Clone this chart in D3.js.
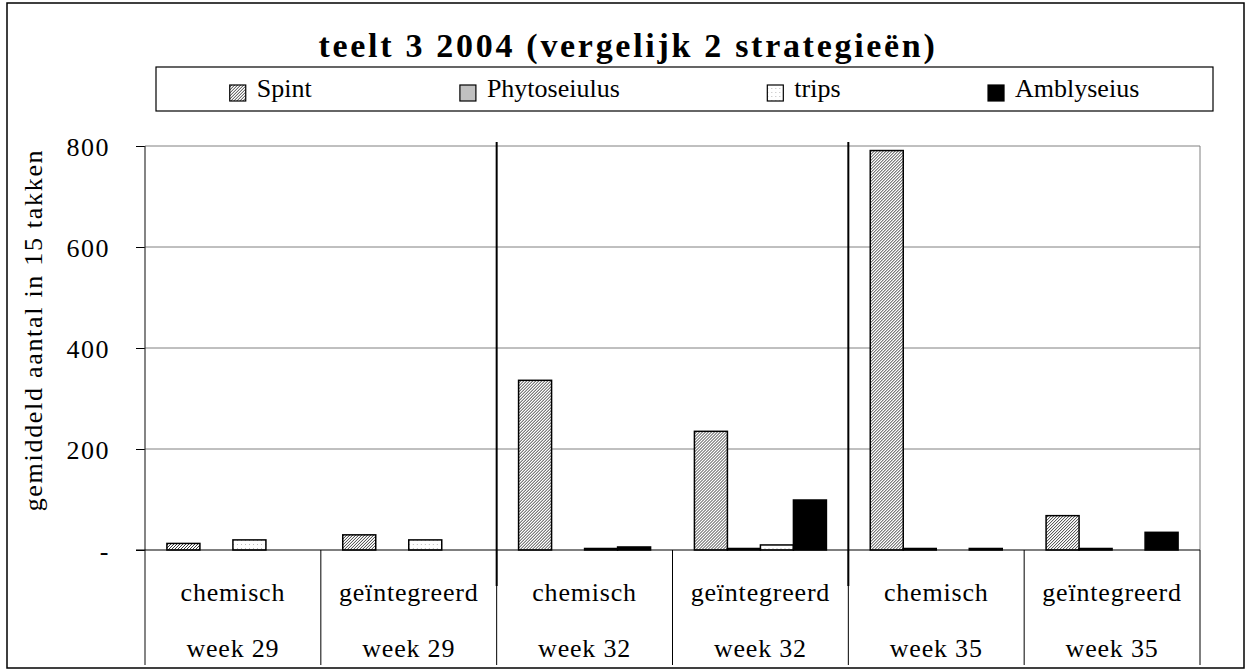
<!DOCTYPE html>
<html lang="nl">
<head>
<meta charset="utf-8">
<title>teelt 3 2004</title>
<script src="https://cdn.jsdelivr.net/npm/d3@7/dist/d3.min.js"></script>
<style>
body { margin: 0; background: #fff; }
svg, svg text { font-family: "Liberation Serif", "Times New Roman", Times, serif; fill: #000; }
.grid line { stroke: #808080; stroke-width: 1; }
.yaxis path { display: none; }
.yaxis line { stroke: #000; }
.yaxis text { font-size: 26px; letter-spacing: 1.5px; }
.cat text { font-size: 26px; letter-spacing: 0.8px; }
</style>
</head>
<body>
<script>
// categories (two level axis)
var strategies = ["chemisch", "geïntegreerd", "chemisch", "geïntegreerd", "chemisch", "geïntegreerd"];
var weeks = ["week 29", "week 29", "week 32", "week 32", "week 35", "week 35"];

// series values
var spint        = [13, 30, 336, 235, 791, 68];
var phytoseiulus = [0, 0, 0, 3, 3, 3];
var trips        = [20, 20, 3, 10, 0, 0];
var amblyseius   = [0, 0, 6, 99, 3, 35];

var seriesNames = ["Spint", "Phytoseiulus", "trips", "Amblyseius"];
var yTicks = [0, 200, 400, 600, 800];

var W = 1252, H = 672;
var plotL = 145, plotR = 1200, plotT = 146, plotB = 550;

var svg = d3.select("body").append("svg").attr("width", W).attr("height", H)
  .attr("font-family", "Liberation Serif, Times New Roman, serif");
var defs = svg.append("defs");

// fine diagonal hatch for Spint
var hatch = defs.append("pattern").attr("id", "hatch")
  .attr("patternUnits", "userSpaceOnUse").attr("width", 3).attr("height", 3);
hatch.append("rect").attr("width", 3).attr("height", 3).attr("fill", "#fff");
hatch.append("path").attr("d", "M-1,1 l2,-2 M0,3 l3,-3 M2,4 l2,-2")
  .attr("stroke", "#3a3a3a").attr("stroke-width", 1);

// fine dots for trips
var dots = defs.append("pattern").attr("id", "dots")
  .attr("patternUnits", "userSpaceOnUse").attr("width", 4).attr("height", 4);
dots.append("rect").attr("width", 4).attr("height", 4).attr("fill", "#fff");
dots.append("rect").attr("width", 1).attr("height", 1).attr("fill", "#bdbdbd");

var fills = ["url(#hatch)", "#c0c0c0", "url(#dots)", "#000"];

// outer frame
svg.append("rect").attr("x", 7).attr("y", 3).attr("width", 1237).attr("height", 665)
  .attr("fill", "#fff").attr("stroke", "#000").attr("stroke-width", 1.5);

// title
svg.append("text").attr("x", 628).attr("y", 57).attr("text-anchor", "middle")
  .attr("font-size", "34px").attr("font-weight", "bold").style("letter-spacing", "2.7px")
  .text("teelt 3 2004 (vergelijk 2 strategieën)");

// scales
var x0 = d3.scaleBand().domain(d3.range(strategies.length)).range([plotL, plotR]);
var x1 = d3.scaleBand().domain(seriesNames).range([0, x0.bandwidth()])
  .paddingInner(0).paddingOuter(0.664);
var y = d3.scaleLinear().domain([0, 800]).range([plotB, plotT]);

// grid + plot border
svg.append("g").attr("class", "grid").selectAll("line")
  .data(yTicks.filter(function(d){ return d > 0; })).enter().append("line")
  .attr("x1", plotL).attr("x2", plotR)
  .attr("y1", function(d){ return y(d); }).attr("y2", function(d){ return y(d); });
svg.append("line").attr("x1", plotR).attr("x2", plotR).attr("y1", plotT).attr("y2", plotB)
  .attr("stroke", "#808080");

// bars
var series = [spint, phytoseiulus, trips, amblyseius];
var groups = svg.append("g").selectAll("g").data(strategies).enter().append("g")
  .attr("transform", function(d, i){ return "translate(" + x0(i) + ",0)"; });
groups.selectAll("rect").data(function(d, i){
    return series.map(function(s, j){ return {name: seriesNames[j], value: s[i], fill: fills[j]}; });
  }).enter().append("rect")
  .attr("x", function(d){ return x1(d.name); })
  .attr("y", function(d){ return y(d.value); })
  .attr("width", x1.bandwidth())
  .attr("height", function(d){ return plotB - y(d.value); })
  .attr("fill", function(d){ return d.fill; })
  .attr("stroke", "#000").attr("stroke-width", 1.5);

// y axis
var yAxis = d3.axisLeft(y).tickValues(yTicks).tickSize(9).tickPadding(26)
  .tickFormat(function(d){ return d === 0 ? "-" : d; });
var ya = svg.append("g").attr("class", "yaxis").attr("transform", "translate(" + plotL + ",0)").call(yAxis);
ya.selectAll("text").attr("dy", "0.35em");
svg.append("line").attr("x1", plotL).attr("x2", plotL).attr("y1", plotT).attr("y2", 665)
  .attr("stroke", "#333").attr("stroke-width", 1.2);
svg.append("line").attr("x1", plotL - 9).attr("x2", plotR).attr("y1", plotB).attr("y2", plotB)
  .attr("stroke", "#000").attr("stroke-width", 1.2);

// category axis: separators and labels
var cat = svg.append("g").attr("class", "cat");
cat.selectAll("line.sep").data(d3.range(1, strategies.length + 1)).enter().append("line")
  .attr("x1", function(i){ return i < strategies.length ? x0(i) : plotR; })
  .attr("x2", function(i){ return i < strategies.length ? x0(i) : plotR; })
  .attr("y1", plotB).attr("y2", 665).attr("stroke", "#000").attr("stroke-width", 1);
cat.selectAll("text.s").data(strategies).enter().append("text")
  .attr("x", function(d, i){ return x0(i) + x0.bandwidth() / 2; }).attr("y", 601)
  .attr("text-anchor", "middle").text(function(d){ return d; });
cat.selectAll("text.w").data(weeks).enter().append("text")
  .attr("x", function(d, i){ return x0(i) + x0.bandwidth() / 2; }).attr("y", 657)
  .attr("text-anchor", "middle").text(function(d){ return d; });

// week dividers (drawn lines across the plot)
var weekStarts = d3.range(1, weeks.length).filter(function(i){ return weeks[i] !== weeks[i - 1]; });
svg.selectAll("line.wk").data(weekStarts).enter().append("line")
  .attr("x1", function(i){ return x0(i); }).attr("x2", function(i){ return x0(i); })
  .attr("y1", 142).attr("y2", 586).attr("stroke", "#000").attr("stroke-width", 2);

// y axis title
svg.append("text").attr("transform", "translate(42,330) rotate(-90)")
  .attr("text-anchor", "middle").attr("font-size", "26px").style("letter-spacing", "1.7px")
  .text("gemiddeld aantal in 15 takken");

// legend
var lgX = 156, lgY = 67, lgW = 1057, lgH = 44;
svg.append("rect").attr("x", lgX).attr("y", lgY).attr("width", lgW).attr("height", lgH)
  .attr("fill", "#fff").attr("stroke", "#000").attr("stroke-width", 1.2);
var items = svg.append("g").selectAll("g").data(seriesNames).enter().append("g");
items.append("rect").attr("x", 0).attr("y", 85).attr("width", 16).attr("height", 16)
  .attr("fill", function(d, i){ return fills[i]; }).attr("stroke", "#000").attr("stroke-width", 1.2);
items.append("text").attr("x", 27).attr("y", 97).attr("font-size", "26px").text(function(d){ return d; });
var widths = [];
items.each(function(){ widths.push(this.getBBox().width); });
var gap = (lgW - d3.sum(widths)) / widths.length;
var cx = lgX + gap / 2;
items.attr("transform", function(d, i){ var t = "translate(" + cx + ",0)"; cx += widths[i] + gap; return t; });
</script>
</body>
</html>
